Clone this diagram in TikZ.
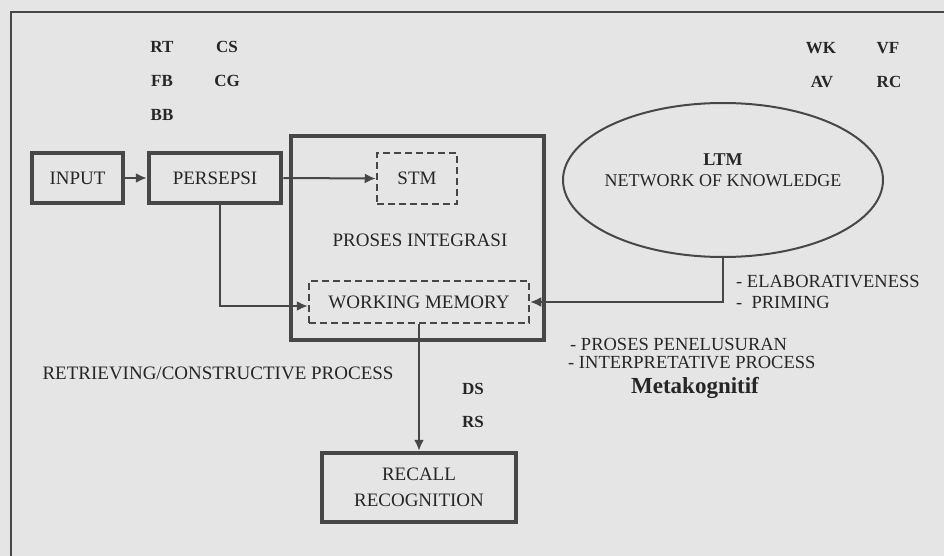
\documentclass[tikz,border=0pt]{standalone}
\usepackage{fontspec}
\setmainfont{Liberation Serif}
\usepackage{xcolor}
\definecolor{paperbg}{rgb}{0.90,0.90,0.90}
\definecolor{inkbd}{rgb}{0.28,0.28,0.28}
\definecolor{inktx}{rgb}{0.15,0.15,0.15}
\usetikzlibrary{positioning, arrows.meta, shapes.geometric}

\begin{document}
\begin{tikzpicture}[
  x=1pt, y=-1pt,
  box/.style={draw=inkbd, line width=4.5pt, text=inktx, align=center,
              font=\fontsize{19}{26}\selectfont, inner sep=0pt},
  dbox/.style={draw=inkbd, line width=2.5pt, dash pattern=on 7pt off 4pt,
              text=inktx, font=\fontsize{19}{22}\selectfont, inner sep=0pt},
  txt/.style={text=inktx, font=\fontsize{19}{22}\selectfont, inner sep=0pt},
  note/.style={text=inktx, font=\fontsize{18.5}{21}\selectfont, inner sep=0pt, anchor=west},
  tag/.style={text=inktx, font=\fontsize{17}{20}\selectfont\bfseries, inner sep=0pt},
  conn/.style={draw=inkbd, line width=2pt, -{Latex[length=11pt,width=10pt]}},
]
\useasboundingbox (0,0) rectangle (944,556);
\fill[paperbg] (0,0) rectangle (944,556);

% Outer frame
\draw[inkbd, line width=2pt] (11,556) |- (944,12);

% Test labels
\node[tag] (rt) at (162,47) {RT};
\node[tag] (cs) at (227,47) {CS};
\node[tag] (fb) at (162,81) {FB};
\node[tag] (cg) at (227,81) {CG};
\node[tag] (bb) at (162,115) {BB};
\node[tag] (wk) at (821,48) {WK};
\node[tag] (vf) at (888,48) {VF};
\node[tag] (av) at (822,82) {AV};
\node[tag] (rc) at (889,82) {RC};
\node[tag] (ds) at (473,389) {DS};
\node[tag] (rs) at (473,422) {RS};

% Boxes
\node[box, minimum width=91pt, minimum height=50pt] (input) at (77.5,178) {INPUT};
\node[box, minimum width=132pt, minimum height=50pt] (persepsi) at (215,178) {PERSEPSI};
\node[box, minimum width=253pt, minimum height=204pt] (integ) at (417.5,238) {};
\node[txt] (integlbl) at (420,240) {PROSES INTEGRASI};
\node[dbox, minimum width=80pt, minimum height=51pt] (stm) at (417,178.5) {STM};
\node[dbox, minimum width=220pt, minimum height=42pt] (wm) at (419,302) {WORKING MEMORY};
\node[box, minimum width=194pt, minimum height=69pt] (recall) at (419,487.5) {RECALL\\RECOGNITION};

% LTM
\node[draw=inkbd, line width=2pt, ellipse, minimum width=320pt, minimum height=154pt] (ltm) at (723,180) {};
\node[txt, align=center, font=\fontsize{18}{21}\selectfont] (ltmlbl) at (723,170) {{\bfseries LTM}\\NETWORK OF KNOWLEDGE};

% Side notes
\node[txt] (retr) at (218,373) {RETRIEVING/CONSTRUCTIVE PROCESS};
\node[note] (elab) at (736,282) {- ELABORATIVENESS};
\node[note] (prim) at (736,302) {-\ \ PRIMING};
\node[note] (penel) at (570,344) {- PROSES PENELUSURAN};
\node[note] (interp) at (568,363) {- INTERPRETATIVE PROCESS};
\node[text=inktx, font=\fontsize{23}{25}\selectfont\bfseries, inner sep=0pt, anchor=base] (meta) at (695,393) {Metakognitif};

% Arrows
\draw[conn] (input) -- (persepsi);
\draw[conn] (persepsi.east) -- (stm.west);
\draw[conn] ([xshift=5pt]persepsi.south) |- ([yshift=-4pt]wm.west);
\draw[conn] (ltm.south) |- (wm.east);
\draw[conn] (wm.south) -- (recall.north);
\end{tikzpicture}
\end{document}
